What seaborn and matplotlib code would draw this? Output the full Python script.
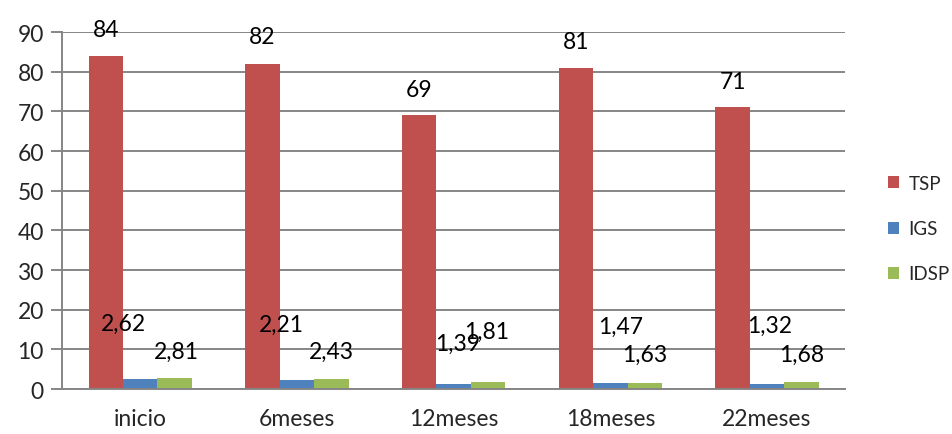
import matplotlib
matplotlib.use("Agg")
import matplotlib.pyplot as plt
import seaborn as sns
import pandas as pd
from matplotlib.patches import Patch

categories = ["inicio", "6meses", "12meses", "18meses", "22meses"]
series = ["TSP", "IGS", "IDSP"]
tsp = [84, 82, 69, 81, 71]
igs = [2.62, 2.21, 1.39, 1.47, 1.32]
idsp = [2.81, 2.43, 1.81, 1.63, 1.68]
tsp_labels = ["84", "82", "69", "81", "71"]
igs_labels = ["2,62", "2,21", "1,39", "1,47", "1,32"]
idsp_labels = ["2,81", "2,43", "1,81", "1,63", "1,68"]

colors = ["#C0504D", "#4F81BD", "#9BBB59"]

# label offsets in pixels (dx, dy) relative to bar top centre
tsp_off = [(0, 26), (0, 27), (0, 26), (0, 26), (0, 26)]
igs_off = [(-17, 55), (-16, 56), (4, 40), (10, 57), (3, 58)]
idsp_off = [(2, 27), (0, 28), (-1, 50), (0, 28), (0, 28)]

sns.set_style("white")
plt.rcParams["font.family"] = ["Lato", "DejaVu Sans"]

FS = 16.5

df = pd.DataFrame({
    "cat": categories * 3,
    "serie": sum([[s] * len(categories) for s in series], []),
    "val": tsp + igs + idsp,
})

fig = plt.figure(figsize=(9.52, 4.35), dpi=100)
ax = fig.add_axes([0.065, 0.1034, 0.823, 0.8206])

sns.barplot(data=df, x="cat", y="val", hue="serie", hue_order=series,
            order=categories, palette=colors, width=0.66, gap=0,
            errorbar=None, saturation=1, ax=ax, legend=False,
            edgecolor="none")

ax.set_xlim(-0.5, 4.5)
ax.set_ylim(0, 90)
ax.set_yticks(range(0, 91, 10))
ax.yaxis.grid(True, color="#868686", linewidth=1.4)
ax.set_axisbelow(True)
for s in ["top", "right"]:
    ax.spines[s].set_visible(False)
for s in ["left", "bottom"]:
    ax.spines[s].set_color("#868686")
    ax.spines[s].set_linewidth(1.4)

ax.set_xlabel("")
ax.set_ylabel("")
ax.set_xticks(range(len(categories)))
ax.set_xticklabels(categories)
ax.set_xticks([i - 0.5 for i in range(len(categories) + 1)], minor=True)
ax.tick_params(axis="x", which="major", length=0, pad=14, labelsize=FS)
ax.tick_params(axis="x", which="minor", length=10, width=1.4, color="#868686")
ax.tick_params(axis="y", length=8, width=1.4, color="#868686", labelsize=FS, pad=5)
ax.tick_params(axis="y", which="both", left=True)

all_labels = [tsp_labels, igs_labels, idsp_labels]
all_offs = [tsp_off, igs_off, idsp_off]
for cont, labs, offs in zip(ax.containers, all_labels, all_offs):
    for bar, lab, (dx, dy) in zip(cont, labs, offs):
        x = bar.get_x() + bar.get_width() / 2
        y = bar.get_height()
        ax.annotate(lab, (x, y), xytext=(dx, dy), textcoords="offset pixels",
                    ha="center", va="center", fontsize=FS, color="black")

handles = [Patch(facecolor=c, edgecolor="none") for c in colors]
fig.legend(handles, series, loc="center left", bbox_to_anchor=(0.923, 0.472),
           frameon=False, fontsize=13.5, handlelength=0.6, handleheight=0.6,
           labelspacing=1.5, handletextpad=0.5, borderpad=0)

fig.savefig("out.png", dpi=100)
